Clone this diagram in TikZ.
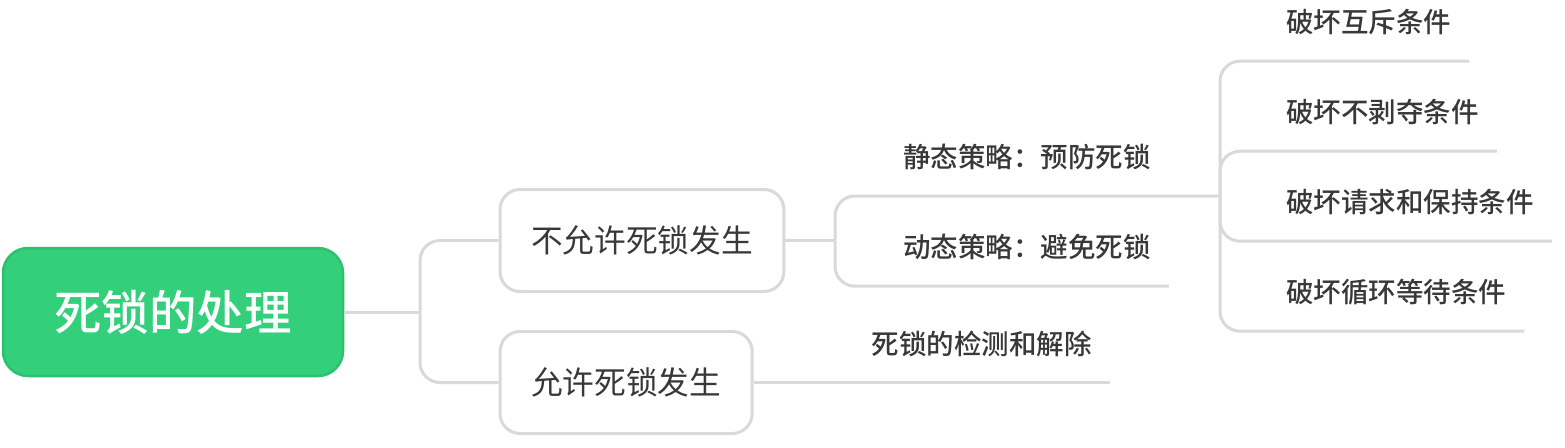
\documentclass[tikz,border=0pt]{standalone}
\usepackage{fontspec}
\setmainfont{Noto Sans CJK SC}
\newfontfamily\leaffont{Noto Sans CJK SC Medium}
\newfontfamily\boxfont{Noto Sans CJK SC}
\usepackage{tikz}
\definecolor{linegray}{HTML}{D9D9D9}
\definecolor{rootgreen}{HTML}{33CF7A}
\definecolor{rootedge}{HTML}{2EC06F}
\definecolor{textgray}{HTML}{383838}

\begin{document}
\begin{tikzpicture}[x=1pt,y=-1pt,
  link/.style={draw=linegray,line width=3pt,rounded corners=20pt},
  rootbox/.style={draw=rootedge,fill=rootgreen,line width=2.5pt,rounded corners=25pt,
    minimum width=340pt,minimum height=128pt,text=white,font=\leaffont\fontsize{47.5}{50}\selectfont},
  topicbox/.style={draw=linegray,fill=white,line width=3pt,rounded corners=20pt,
    minimum height=102pt,inner xsep=31pt,text=textgray,font=\boxfont\fontsize{31.7}{34}\selectfont},
  leaf/.style={minimum height=78pt,inner xsep=18pt,inner ysep=0pt,text=textgray,
    font=\leaffont\fontsize{27.5}{30}\selectfont}]
\useasboundingbox (0,0) rectangle (1565,447);
%\draw[step=50pt,lightgray,very thin] (0,0) grid (1565,447);
\node[rootbox] (root) at (173,312) {死锁的处理};
\node[topicbox,anchor=west] (ban) at (498.5,240.5) {不允许死锁发生};
\node[topicbox,anchor=west] (allow) at (498.5,382.5) {允许死锁发生};
\node[leaf] (static) at (1027,157) {静态策略：预防死锁};
\node[leaf] (dynamic) at (1027,247) {动态策略：避免死锁};
\node[leaf] (detect) at (981.5,344) {死锁的检测和解除};
\node[leaf,anchor=west] (mutex) at (1268,22) {破坏互斥条件};
\node[leaf,anchor=west] (nopreempt) at (1268,112) {破坏不剥夺条件};
\node[leaf,anchor=west] (holdwait) at (1268,202) {破坏请求和保持条件};
\node[leaf,anchor=west] (circwait) at (1268,292) {破坏循环等待条件};
\coordinate (j1) at (420,312);
\coordinate (j2) at (835,240.5);
\coordinate (j3) at (1220,196);
\draw[link] (root.east) -- (j1);
\draw[link] (j1) |- (ban.west);
\draw[link] (j1) |- (allow.west);
\draw[link] (ban.east) -- (j2);
\draw[link] (j2) |- (j3);
\draw[link] (j2) |- (dynamic.south east);
\draw[link] (allow.east) -- (allow.east -| detect.south east);
\draw[link] (j3) |- (mutex.south east);
\draw[link] (j3) |- (nopreempt.south east);
\draw[link] (j3) |- (holdwait.south east);
\draw[link] (j3) |- (circwait.south east);
\end{tikzpicture}
\end{document}
